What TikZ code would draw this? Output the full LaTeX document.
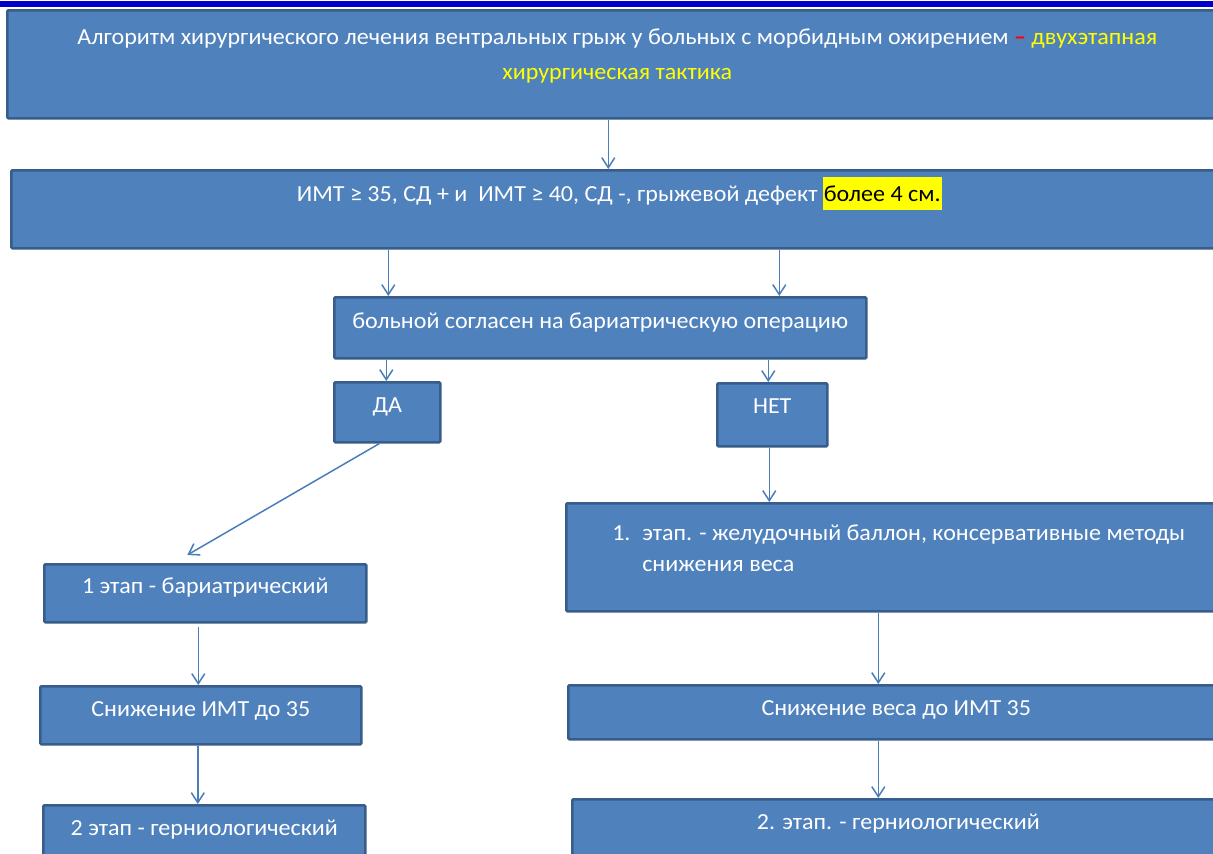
\documentclass[tikz,border=0pt]{standalone}
\usepackage{fontspec}
\setmainfont{Carlito}[FakeStretch=1.045]
\usetikzlibrary{arrows.meta}
\definecolor{boxfill}{HTML}{4F81BD}
\definecolor{boxline}{HTML}{385D8A}
\definecolor{arrc}{HTML}{4A7EBB}
\definecolor{topbar}{HTML}{0000CC}
\definecolor{hlyellow}{HTML}{FFFF00}
\definecolor{dashred}{HTML}{FF0000}
\tikzset{
  flowbox/.style={draw=boxline, fill=boxfill, line width=2.6bp, rounded corners=1.2bp,
    inner xsep=0pt, inner ysep=0pt, anchor=north west, text=white,
    font=\fontsize{23bp}{35bp}\selectfont},
  arr/.style={draw=arrc, line width=1.5bp, -{Straight Barb[length=10bp,width=13bp,line width=1.5bp]}},
}
\begin{document}
\begin{tikzpicture}[x=1bp,y=-1bp]
\useasboundingbox (0,0) rectangle (1213,854);
\clip (0,0) rectangle (1213,854);
\fill[white] (0,0) rectangle (1213,854);
\fill[topbar] (0,1) rectangle (1213,7);

% boxes: top-left at (x,y); text height = last baseline - top; text depth = bottom - last baseline
\node[flowbox, minimum width=1220bp, text height=69bp, text depth=39bp, align=center] (title) at (6,9)
  {Алгоритм хирургического лечения вентральных грыж у больных с морбидным ожирением {\color{dashred}\bfseries –} {\color{hlyellow}двухэтапная}\\
   {\color{hlyellow}хирургическая тактика}};

\node[flowbox, minimum width=1216bp, text height=31bp, text depth=47bp] (crit) at (10,169)
  {ИМТ ≥ 35, СД + и\ \ ИМТ ≥ 40, СД -, грыжевой дефект {\setlength{\fboxsep}{1bp}\colorbox{hlyellow}{\rule[-8bp]{0pt}{31bp}\color{black}более 4 см.}}};

\node[flowbox, minimum width=532bp, text height=31bp, text depth=30bp] (agree) at (333,296)
  {больной согласен на бариатрическую операцию};

\node[flowbox, minimum width=106bp, text height=30bp, text depth=30bp] (yes) at (333,381) {ДА};
\node[flowbox, minimum width=110bp, text height=30bp, text depth=33bp] (no) at (716,382) {НЕТ};

\node[flowbox, minimum width=322bp, text height=29bp, text depth=29bp] (st1L) at (43,563)
  {1 этап - бариатрический};
\node[flowbox, minimum width=321bp, text height=30bp, text depth=28bp] (lowL) at (39,685)
  {Снижение ИМТ до 35};
\node[flowbox, minimum width=322bp, text height=30bp, text depth=40bp] (st2L) at (42,804)
  {2 этап - герниологический};

\node[flowbox, inner xsep=46bp, align=left, text height=68bp, text depth=40bp,
      font=\fontsize{23bp}{31bp}\selectfont] (st1R) at (565,502)
  {\makebox[30bp][l]{1.}этап. - желудочный баллон, консервативные методы\\
   \hspace*{30bp}снижения веса};
\node[flowbox, minimum width=656bp, text height=30bp, text depth=24bp] (lowR) at (567,684)
  {Снижение веса до ИМТ 35};
\node[flowbox, minimum width=652bp, text height=30bp, text depth=40bp] (st2R) at (571,798)
  {2. этап. - герниологический};

% connectors
\draw[arr] ([xshift=-9bp]title.south) -- ([xshift=-9bp]title.south |- crit.north);
\draw[arr] ([xshift=-231bp]crit.south) -- ([xshift=-231bp]crit.south |- agree.north);
\draw[arr] ([xshift=160bp]crit.south) -- ([xshift=160bp]crit.south |- agree.north);
\draw[arr] ([xshift=-214bp]agree.south) -- ([xshift=-214bp]agree.south |- yes.north);
\draw[arr] ([xshift=168bp]agree.south) -- ([xshift=168bp]agree.south |- no.north);
\draw[arr] ([xshift=-8bp]yes.south) -- ([xshift=-18bp,yshift=8bp]st1L.north);
\draw[arr] ([xshift=-7bp,yshift=-3bp]st1L.south) -- ([xshift=-7bp]st1L.south |- lowL.north);
\draw[arr] ([xshift=-3bp]lowL.south) -- ([xshift=-3bp]lowL.south |- st2L.north);
\draw[arr] ([xshift=-3bp]no.south) -- ([xshift=-3bp]no.south |- st1R.north);
\draw[arr] ([xshift=-18bp]lowR.north |- st1R.south) -- ([xshift=-18bp]lowR.north);
\draw[arr] ([xshift=-18bp]lowR.south) -- ([xshift=-18bp]lowR.south |- st2R.north);
\end{tikzpicture}
\end{document}
